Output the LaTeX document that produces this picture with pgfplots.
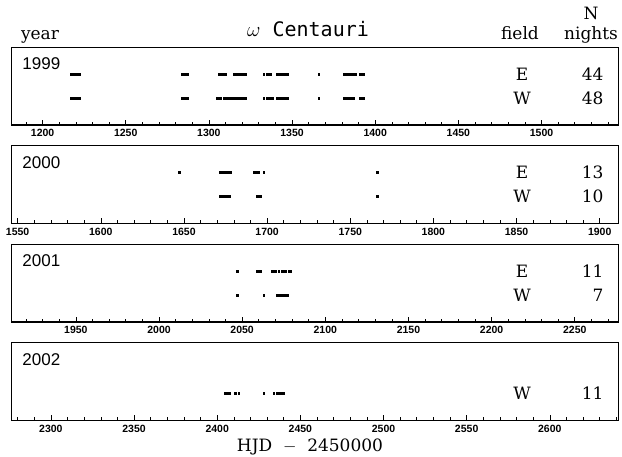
\documentclass[border=0pt]{standalone}
\usepackage{fontspec}
\setmainfont{DejaVu Serif}
\newfontfamily\sansf{Liberation Sans}
\newfontfamily\monof{DejaVu Sans Mono}
\usepackage{pgfplots}
\pgfplotsset{compat=1.18}
\pgfplotsset{panel/.style={
  scale only axis, width=607pt, height=78pt, anchor=north west,
  ymin=0, ymax=78, ytick=\empty,
  xtick distance=50, minor x tick num=4,
  xtick pos=bottom, tick align=inside,
  major tick length=5pt, minor tick length=3pt,
  tick style={black, line width=0.6pt},
  axis line style={line width=0.8pt},
  xticklabel style={font=\sansf\bfseries\fontsize{10.5}{10.5}\selectfont, yshift=-1pt},
  /pgf/number format/assume math mode=true,
  /pgf/number format/set thousands separator={},
  clip=false,
  after end axis/.code={\draw[line width=1.3pt] (rel axis cs:0,0) -- (rel axis cs:1,0);},
}, nights/.style={only marks, mark=square*, mark size=0.85pt, black, mark options={draw=none}}}
\newcommand\lab[1]{\node[anchor=base west, font=\sansf\fontsize{17}{17}\selectfont] at (rel axis cs:0.013,0.71) {#1};}
\newcommand\row[3]{\node[font=\fontsize{17}{17}\selectfont] at (rel axis cs:0.842,#1) {#2};
  \node[anchor=east, font=\fontsize{17}{17}\selectfont] at (rel axis cs:0.982,#1) {#3};}
\begin{document}
\begin{tikzpicture}
\useasboundingbox (0,0) rectangle (622pt,457pt);
\node[anchor=base, font=\fontsize{17}{17}\selectfont] at (40pt,417pt) {year};
\node[anchor=base, font=\monof\fontsize{20}{20}\selectfont] at (308pt,420pt) {$\omega$ Centauri};
\node[anchor=base, font=\fontsize{17}{17}\selectfont] at (520pt,417pt) {field};
\node[anchor=base, font=\fontsize{17}{17}\selectfont] at (591pt,437pt) {N};
\node[anchor=base, font=\fontsize{17}{17}\selectfont] at (591pt,417pt) {nights};
\node[anchor=base, font=\fontsize{17}{17}\selectfont] at (310pt,5pt) {HJD \ $-$ \ 2450000};
% 1999
\begin{axis}[panel, at={(11pt,410pt)}, xmin=1181, xmax=1546]
\addplot[nights] coordinates {(1217,51)(1218,51)(1219,51)(1220,51)(1221,51)(1222,51)
(1284,51)(1285,51)(1286,51)(1287,51)(1306,51)(1308,51)(1310,51)
(1315,51)(1316,51)(1317,51)(1318,51)(1319,51)(1320,51)(1321,51)(1322,51)
(1333,51)(1335,51)(1336,51)(1337,51)(1341,51)(1342,51)(1343,51)(1344,51)(1345,51)(1346,51)(1347,51)
(1366,51)(1381,51)(1382,51)(1383,51)(1384,51)(1385,51)(1386,51)(1387,51)(1388,51)(1391,51)(1392,51)(1393,51)};
\addplot[nights] coordinates {(1217,27)(1218,27)(1219,27)(1220,27)(1221,27)(1222,27)
(1284,27)(1285,27)(1286,27)(1287,27)(1305,27)(1307,27)
(1309,27)(1310,27)(1311,27)(1312,27)(1313,27)(1314,27)(1315,27)(1316,27)(1317,27)(1318,27)(1319,27)(1320,27)(1321,27)(1322,27)
(1333,27)(1335,27)(1336,27)(1337,27)(1338,27)(1341,27)(1342,27)(1343,27)(1344,27)(1345,27)(1346,27)(1347,27)
(1366,27)(1381,27)(1382,27)(1383,27)(1384,27)(1385,27)(1386,27)(1387,27)(1391,27)(1392,27)(1393,27)};
\lab{1999}
\row{0.654}{E}{44}
\row{0.346}{W}{48}
\end{axis}
% 2000
\begin{axis}[panel, at={(11pt,311.5pt)}, xmin=1546, xmax=1911]
\addplot[nights] coordinates {(1647,51)(1672,51)(1673,51)(1674,51)(1676,51)(1677,51)(1678,51)
(1692,51)(1693,51)(1694,51)(1695,51)(1698,51)(1766,51)};
\addplot[nights] coordinates {(1672,27)(1673,27)(1674,27)(1675,27)(1676,27)(1677,27)
(1694,27)(1695,27)(1696,27)(1766,27)};
\lab{2000}
\row{0.654}{E}{13}
\row{0.346}{W}{10}
\end{axis}
% 2001
\begin{axis}[panel, at={(11pt,213pt)}, xmin=1911, xmax=2276]
\addplot[nights] coordinates {(2047,51)(2059,51)(2061,51)(2068,51)(2070,51)(2072,51)(2074,51)(2075,51)(2076,51)(2078,51)(2079,51)};
\addplot[nights] coordinates {(2047,27)(2063,27)(2071,27)(2073,27)(2074,27)(2076,27)(2077,27)};
\lab{2001}
\row{0.654}{E}{11}
\row{0.346}{W}{7}
\end{axis}
% 2002
\begin{axis}[panel, at={(11pt,114.5pt)}, xmin=2276, xmax=2641]
\addplot[nights] coordinates {(2405,27)(2406,27)(2407,27)(2411,27)(2413,27)(2428,27)(2434,27)(2436,27)(2438,27)(2439,27)(2440,27)};
\lab{2002}
\row{0.346}{W}{11}
\end{axis}
\end{tikzpicture}
\end{document}
